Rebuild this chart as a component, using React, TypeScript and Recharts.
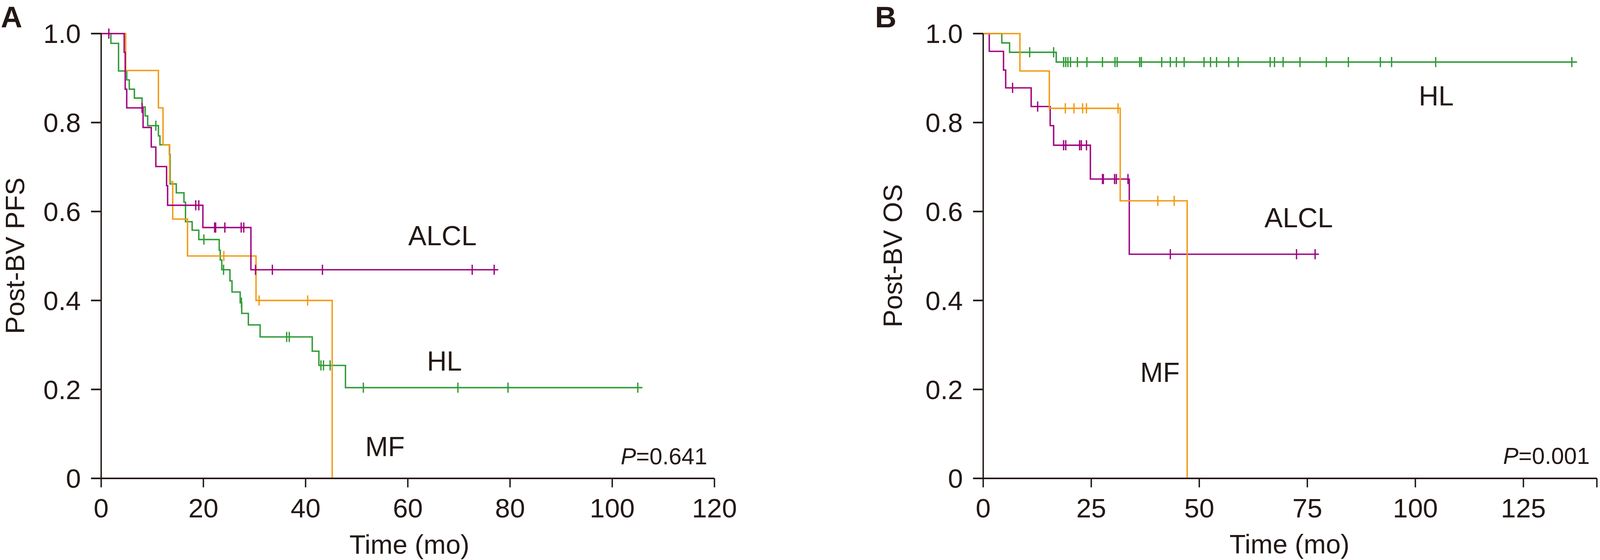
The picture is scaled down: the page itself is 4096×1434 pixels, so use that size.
import {
  ComposedChart, Line, XAxis, YAxis,
} from "recharts";

// ---- Panel A: post-BV PFS (months, survival) ----
const pfsHlTime = [0, 1.9, 3.4, 5.0, 5.5, 6.5, 8.0, 8.6, 9.1, 11.2, 11.5, 13.35, 13.5, 14.7, 16.2, 16.5, 17.8, 19.1, 23.1, 23.3, 23.6, 25.2, 25.6, 27.2, 27.5, 28.8, 31.1, 41.3, 42.6, 47.8, 105.9];
const pfsHlSurv = [1, 0.978, 0.916, 0.896, 0.875, 0.855, 0.835, 0.815, 0.793, 0.77, 0.75, 0.728, 0.662, 0.642, 0.621, 0.577, 0.558, 0.537, 0.513, 0.491, 0.469, 0.444, 0.419, 0.395, 0.371, 0.345, 0.318, 0.286, 0.254, 0.204, 0.204];
const pfsHlCensor = [10.7, 20.1, 23.95, 27.45, 36.3, 36.8, 43.0, 43.5, 44.8, 51.3, 69.8, 79.6, 105.0];

const pfsAlclTime = [0, 4.5, 4.7, 5.0, 8.2, 9.8, 10.7, 12.8, 13.0, 19.9, 29.3, 77.7];
const pfsAlclSurv = [1, 0.958, 0.875, 0.833, 0.789, 0.745, 0.701, 0.658, 0.614, 0.564, 0.469, 0.469];
const pfsAlclCensor = [1.5, 8.0, 18.5, 19.1, 22.2, 22.4, 24.2, 27.4, 27.9, 30.2, 33.5, 43.3, 72.6, 76.9];

const pfsMfTime = [0, 4.8, 11.2, 12.1, 13.4, 14.0, 16.9, 30.3, 45.2];
const pfsMfSurv = [1, 0.917, 0.833, 0.75, 0.667, 0.583, 0.5, 0.4, 0];
const pfsMfCensor = [24.0, 30.9, 40.4];

// ---- Panel B: post-BV OS ----
const osHlTime = [0, 4.3, 6.1, 16.9, 137.4];
const osHlSurv = [1, 0.979, 0.958, 0.936, 0.936];
const osHlCensor = [10.75, 16.3, 18.6, 19.1, 19.6, 20.2, 21.8, 24.0, 27.6, 30.5, 31.0, 36.2, 36.6, 41.3, 43.3, 44.7, 46.5, 51.1, 52.6, 54.0, 56.8, 59.0, 66.4, 67.4, 69.4, 73.3, 79.4, 84.5, 91.9, 94.5, 104.7, 136.2];

const osAlclTime = [0, 1.4, 4.7, 5.2, 11.1, 15.5, 16.3, 24.8, 33.8, 77.7];
const osAlclSurv = [1, 0.96, 0.918, 0.878, 0.836, 0.793, 0.749, 0.673, 0.504, 0.504];
const osAlclCensor = [6.8, 12.6, 18.6, 19.1, 22.3, 22.7, 23.9, 27.6, 27.8, 30.4, 30.8, 33.5, 43.3, 72.5, 76.8];

const osMfTime = [0, 8.5, 15.3, 31.7, 47.2];
const osMfSurv = [1, 0.916, 0.832, 0.624, 0];
const osMfCensor = [19.0, 21.0, 23.0, 23.9, 31.2, 40.4, 44.2];

const yTicks = [0, 0.2, 0.4, 0.6, 0.8, 1.0];
const pfsXTicks = [0, 20, 40, 60, 80, 100, 120];
const osXTicks = [0, 25, 50, 75, 100, 125, 142];

const INK = "#231815";
const GREEN = "#309B38";
const PURPLE = "#A0047F";
const ORANGE = "#F39A12";
const FONT = "'Liberation Sans', Arial, Helvetica, sans-serif";

const toPoints = (times: number[], surv: number[]) =>
  times.map((t, i) => ({ t, s: surv[i] }));

const survAt = (times: number[], surv: number[], t: number) => {
  let s = surv[0];
  times.forEach((tt, i) => { if (tt <= t) s = surv[i]; });
  return s;
};

const censorPoints = (times: number[], surv: number[], cens: number[]) =>
  cens.map(t => ({ t, s: survAt(times, surv, t) }));

const tickMark = (color: string) => (p: any) => (
  <line
    key={`c-${p.index}`}
    x1={p.cx} x2={p.cx} y1={p.cy - 13} y2={p.cy + 13}
    stroke={color} strokeWidth={3.4}
  />
);

type Curve = { times: number[]; surv: number[]; cens: number[]; color: string };

function KMPanel({ curves, xMax, xTicks, width, left, marginLeft, marginRight }: {
  curves: Curve[]; xMax: number; xTicks: number[]; width: number; left: number;
  marginLeft: number; marginRight: number;
}) {
  const tickStyle = { fontSize: 69, fill: INK, fontFamily: FONT };
  return (
    <div style={{ position: "absolute", left, top: 0 }}>
      <ComposedChart width={width} height={1434}
        margin={{ top: 86, right: marginRight, left: marginLeft, bottom: 109 }}>
        <XAxis dataKey="t" type="number" domain={[0, xMax]} ticks={xTicks}
          allowDataOverflow interval={0}
          tickFormatter={(v: number) => (v === 142 ? "" : String(v))}
          tick={tickStyle} tickSize={23} tickMargin={28} height={100}
          axisLine={{ stroke: INK, strokeWidth: 4.2 }}
          tickLine={{ stroke: INK, strokeWidth: 3.6 }} />
        <YAxis type="number" domain={[0, 1]} ticks={yTicks} interval={0} width={200}
          tickFormatter={(v: number) => (v === 0 ? "0" : v.toFixed(1))}
          tick={tickStyle} tickSize={26} tickMargin={26}
          axisLine={{ stroke: INK, strokeWidth: 3.6 }}
          tickLine={{ stroke: INK, strokeWidth: 4.2 }} />
        {curves.map((c, i) => (
          <Line key={`l${i}`} data={toPoints(c.times, c.surv)} dataKey="s"
            type="stepAfter" stroke={c.color} strokeWidth={3.6} dot={false}
            activeDot={false} isAnimationActive={false} />
        ))}
        {curves.map((c, i) => (
          <Line key={`c${i}`} data={censorPoints(c.times, c.surv, c.cens)} dataKey="s"
            stroke="none" dot={tickMark(c.color)} activeDot={false}
            isAnimationActive={false} />
        ))}
      </ComposedChart>
    </div>
  );
}

export default function App() {
  const txt = { fontFamily: FONT, fill: INK };
  return (
    <div style={{ position: "absolute", left: 0, top: 0, width: 4096, height: 1434, background: "#fff", overflow: "hidden" }}>
      <KMPanel
        left={0} width={1900} marginLeft={59} marginRight={71} xMax={120} xTicks={pfsXTicks}
        curves={[
          { times: pfsHlTime, surv: pfsHlSurv, cens: pfsHlCensor, color: GREEN },
          { times: pfsMfTime, surv: pfsMfSurv, cens: pfsMfCensor, color: ORANGE },
          { times: pfsAlclTime, surv: pfsAlclSurv, cens: pfsAlclCensor, color: PURPLE },
        ]}
      />
      <KMPanel
        left={2300} width={1796} marginLeft={17} marginRight={8} xMax={142} xTicks={osXTicks}
        curves={[
          { times: osHlTime, surv: osHlSurv, cens: osHlCensor, color: GREEN },
          { times: osAlclTime, surv: osAlclSurv, cens: osAlclCensor, color: PURPLE },
          { times: osMfTime, surv: osMfSurv, cens: osMfCensor, color: ORANGE },
        ]}
      />
      <svg width={4096} height={1434} style={{ position: "absolute", left: 0, top: 0, pointerEvents: "none" }}>
        {/* panel A */}
        <text x={2} y={70} fontSize={76} fontWeight="bold" {...txt}>A</text>
        <text x={1045} y={628} fontSize={70} {...txt}>ALCL</text>
        <text x={1093} y={949} fontSize={70} {...txt}>HL</text>
        <text x={935} y={1168} fontSize={70} {...txt}>MF</text>
        <text x={1589} y={1189} fontSize={59} {...txt}>
          <tspan fontStyle="italic">P</tspan>=0.641
        </text>
        <text x={1048} y={1418} fontSize={68} textAnchor="middle" {...txt}>Time (mo)</text>
        <text transform="translate(62,655) rotate(-90)" fontSize={68} textAnchor="middle" {...txt}>Post-BV PFS</text>
        {/* panel B */}
        <text x={2240} y={70} fontSize={76} fontWeight="bold" {...txt}>B</text>
        <text x={3632} y={270} fontSize={70} {...txt}>HL</text>
        <text x={3237} y={582} fontSize={70} {...txt}>ALCL</text>
        <text x={2919} y={978} fontSize={70} {...txt}>MF</text>
        <text x={3848} y={1188} fontSize={59} {...txt}>
          <tspan fontStyle="italic">P</tspan>=0.001
        </text>
        <text x={3301} y={1417} fontSize={68} textAnchor="middle" {...txt}>Time (mo)</text>
        <text transform="translate(2309,655) rotate(-90)" fontSize={68} textAnchor="middle" {...txt}>Post-BV OS</text>
      </svg>
    </div>
  );
}
